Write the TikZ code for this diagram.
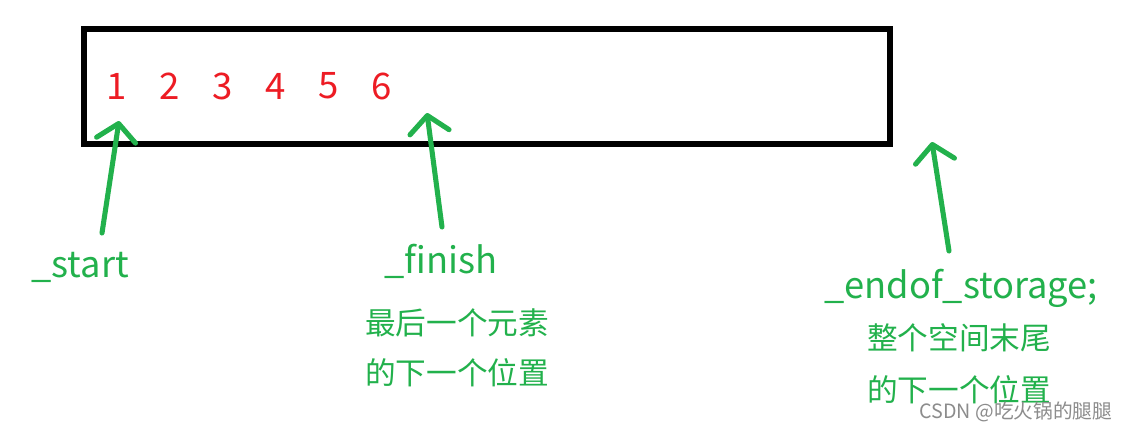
\documentclass[tikz,border=0pt]{standalone}
\usepackage{fontspec}
\newfontfamily\cjk{Noto Sans CJK SC}
\usetikzlibrary{arrows.meta}
\definecolor{paintred}{RGB}{237,28,36}
\definecolor{paintgreen}{RGB}{34,177,76}
\tikzset{
	elem/.style={text=paintred,font=\cjk\fontsize{26}{30}\selectfont,inner sep=0pt},
	ptrname/.style={text=paintgreen,font=\cjk\fontsize{25.8}{31}\selectfont,inner sep=0pt,anchor=base},
	ptrnote/.style={text=paintgreen,font=\cjk\fontsize{21.8}{26}\selectfont,inner sep=0pt},
	ptr/.style={draw=paintgreen,line width=3.6pt,line cap=round,
		-{Straight Barb[length=12pt,width=28pt,line cap=round,line join=round]}}
}
\begin{document}
\begin{tikzpicture}[x=0.025cm,y=-0.025cm]
	\useasboundingbox[fill=white] (0,0) rectangle (1125,430);
	\draw[line width=3.6pt] (84,29) rectangle (890,144);
	\foreach \v [count=\i from 0] in {1,...,6}
		\node[elem] (e\v) at (117+53*\i,86) {\v};
	\coordinate (starttail) at (102,233);
	\coordinate (starttip) at (119,121);
	\coordinate (finishtail) at (442,227);
	\coordinate (finishtip) at (427,113);
	\coordinate (endtail) at (949,251);
	\coordinate (endtip) at (932,142);
	\draw[ptr] (starttail) -- (starttip);
	\draw[ptr] (finishtail) -- (finishtip);
	\draw[ptr] (endtail) -- (endtip);
	\node[ptrname] (start) at (80,277) {\_start};
	\node[ptrname] (finish) at (441,273) {\_finish};
	\node[ptrname] (endof) at (961,298) {\_endof\_storage;};
	\node[ptrnote] (finishnote1) at (457,323) {最后一个元素};
	\node[ptrnote] (finishnote2) at (457,373) {的下一个位置};
	\node[ptrnote] (endnote1) at (959,338) {整个空间末尾};
	\node[ptrnote] (endnote2) at (959,390) {的下一个位置};
	\node[text=black!45,font=\cjk\fontsize{14}{16}\selectfont,inner sep=0pt] (mark) at (1016,412) {CSDN @吃火锅的腿腿};
\end{tikzpicture}
\end{document}
